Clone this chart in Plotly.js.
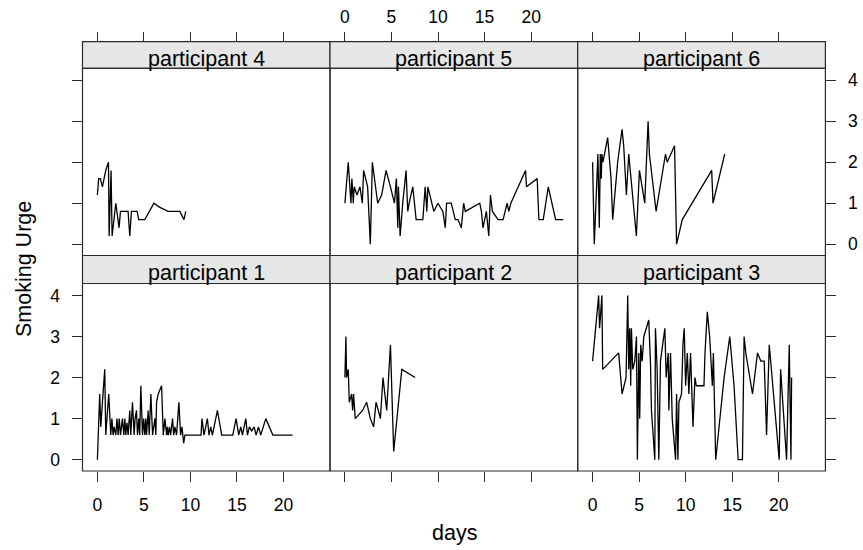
<!DOCTYPE html>
<html>
<head>
<meta charset="utf-8">
<script src="https://cdn.plot.ly/plotly-3.0.1.min.js"></script>
<style>html,body{margin:0;padding:0;background:#fff}#chart{width:863px;height:550px}</style>
</head>
<body>
<div id="chart"></div>
<script>
// ---- data (days since start, smoking urge) ----
const p1Days = [0,0.25,0.36,0.79,0.9,1.04,1.22,1.44,1.56,1.69,1.8,1.98,2.1,2.23,2.35,2.48,2.58,2.69,2.84,2.95,3.05,3.18,3.3,3.48,3.59,3.77,3.95,4.05,4.2,4.31,4.45,4.55,4.67,4.85,4.97,5.1,5.2,5.28,5.46,5.57,5.75,5.93,6.05,6.18,6.28,6.36,6.54,6.9,7.08,7.26,7.44,7.52,7.61,7.75,7.87,8.08,8.2,8.33,8.51,8.76,8.94,9.09,9.27,9.41,11.14,11.24,11.46,11.64,11.82,12.0,12.18,12.36,12.9,13.36,14.55,14.91,15.19,15.41,15.59,15.95,16.13,16.34,16.59,16.85,17.06,17.31,17.56,18.1,18.86,20.98];
const p1Urge = [0.0,1.6,0.8,2.2,0.6,1.0,1.6,0.6,1.0,0.6,0.8,0.6,1.0,0.6,1.0,0.6,0.8,1.0,0.6,1.0,0.6,0.9,0.6,1.2,0.6,1.4,0.6,1.0,1.2,0.6,1.0,0.6,1.8,0.6,1.0,0.6,1.0,0.6,1.2,0.6,1.6,0.6,0.8,1.0,0.6,1.4,1.6,1.8,0.6,1.0,0.6,0.8,0.6,0.8,0.6,1.0,0.6,0.8,0.6,1.4,0.6,0.8,0.4,0.6,0.6,1.0,0.6,0.8,1.0,0.6,0.8,0.6,1.2,0.6,0.6,1.0,0.6,0.8,0.6,1.0,0.6,0.8,0.7,0.8,0.6,0.8,0.6,1.0,0.6,0.6];

const p2Days = [0,0.11,0.18,0.36,0.47,0.72,0.83,0.93,1.11,1.9,2.33,2.73,3.09,3.34,3.59,3.81,4.09,4.49,4.89,5.24,6.11,7.54];
const p2Urge = [2.0,3.0,2.0,2.2,1.4,1.6,1.2,1.6,1.0,1.2,1.4,1.0,0.8,1.4,1.2,1.0,2.0,1.2,2.8,0.2,2.2,2.0];

const p3Days = [0,0.65,0.75,1.0,1.08,2.8,3.16,3.59,3.77,3.88,3.99,4.09,4.17,4.31,4.53,4.71,4.81,4.96,5.06,5.17,5.32,5.5,6.03,6.21,6.32,6.68,6.75,6.93,7.11,7.29,7.76,7.9,8.12,8.19,8.37,8.55,8.91,9.02,9.16,9.27,9.55,9.7,9.84,9.99,10.17,10.34,10.52,10.78,10.99,11.14,11.96,12.07,12.32,12.57,12.86,12.97,13.22,14.12,14.73,15.19,15.63,15.91,16.09,16.27,16.45,17.17,17.71,18.07,18.43,18.68,18.97,20.04,20.19,20.83,21.12,21.3,21.37];
const p3Urge = [2.4,4.0,3.2,4.0,2.2,2.6,1.6,2.0,4.0,2.2,3.2,1.8,3.2,2.2,2.4,3.0,0.0,2.6,1.0,2.8,2.4,3.0,3.4,2.4,1.2,0.0,3.2,2.2,0.0,2.4,3.2,2.0,2.6,1.2,2.6,1.0,0.0,1.6,0.0,1.4,1.6,2.8,3.2,1.8,2.6,1.6,2.6,0.8,2.0,1.8,1.8,2.6,3.6,3.0,1.8,2.6,0.0,2.0,3.0,1.8,0.0,0.0,0.0,3.0,2.6,1.6,2.6,2.4,2.4,0.6,2.8,0.0,2.2,0.0,2.8,0.0,2.0];

const p4Days = [0,0.14,0.32,0.54,0.9,1.19,1.26,1.47,1.58,1.98,2.33,2.48,3.3,3.48,3.66,4.27,4.45,5.1,6.07,6.72,7.6,8.87,9.3,9.5];
const p4Urge = [1.2,1.6,1.6,1.4,1.8,2.0,0.2,1.8,0.2,1.0,0.4,0.8,0.8,0.2,0.8,0.8,0.6,0.6,1.0,0.9,0.8,0.8,0.6,0.8];

const p5Days = [0,0.36,0.65,0.75,0.9,1.0,1.3,1.62,1.87,2.01,2.44,2.73,2.95,3.52,3.95,4.42,4.89,5.32,5.53,5.68,5.75,5.93,6.21,6.57,6.75,6.9,7.29,7.65,8.37,8.62,8.8,8.91,9.55,9.99,10.52,10.78,10.92,11.42,11.85,12.14,12.5,12.75,12.93,13.65,14.48,14.66,14.83,15.19,15.45,15.63,15.84,16.45,16.99,17.42,17.6,17.82,19.4,19.5,20.65,20.83,21.3,21.84,22.63,23.45];
const p5Urge = [1.0,2.0,1.0,1.6,1.0,1.4,1.2,1.4,1.0,1.8,1.4,0.0,2.0,1.0,1.2,1.8,1.4,1.0,1.6,0.4,1.4,0.2,1.0,1.8,0.8,1.0,1.4,0.6,0.6,1.4,0.8,1.4,0.8,1.0,0.8,0.4,1.0,1.0,0.6,0.6,0.4,1.0,0.8,0.9,1.0,0.8,0.4,0.8,0.2,1.2,0.8,0.6,0.6,1.0,0.8,1.0,1.8,1.4,1.6,0.6,0.6,1.4,0.6,0.6];

const p6Days = [0,0.18,0.57,0.72,0.83,0.93,1.0,1.11,1.62,1.98,2.16,2.69,3.16,3.34,3.63,3.88,4.7,5.03,5.6,5.96,6.1,6.82,7.83,8.01,8.8,9.02,9.63,12.79,12.93,14.19];
const p6Urge = [2.0,0.0,2.2,0.4,2.2,1.6,2.2,2.0,2.6,1.6,0.6,2.0,2.8,2.4,1.2,2.2,0.2,1.8,1.0,3.0,2.2,0.8,2.2,2.0,2.4,0.0,0.6,1.8,1.0,2.2];

const panelLabels = ["participant 4","participant 5","participant 6","participant 1","participant 2","participant 3"];
const xTicks = [0,5,10,15,20];
const yTicks = [0,1,2,3,4];
const xTitle = "days";
const yTitle = "Smoking Urge";

// panel order: top row p4,p5,p6 ; bottom row p1,p2,p3
const series = [[p4Days,p4Urge],[p5Days,p5Urge],[p6Days,p6Urge],[p1Days,p1Urge],[p2Days,p2Urge],[p3Days,p3Urge]];

// ---- geometry (pixels) ----
const W = 863, H = 550;
const cols = [[82.5,330],[330,577.7],[577.7,825.4]];
const rowPanels = [[68.3,255.5],[283.5,471]];
const rowStrips = [[41.7,68.3],[255.5,283.5]];
const px = x => x / W;
const py = y => 1 - y / H;
const FONT = "Liberation Sans, Arial, Helvetica, sans-serif";
const LINE = "#2b2b2b";
const TICKSIZE = 17.5, TITLESIZE = 21.5;

const traces = [];
const layout = {
  width: W, height: H,
  margin: {l:0, r:0, t:0, b:0},
  paper_bgcolor: "#fff", plot_bgcolor: "#fff",
  showlegend: false,
  font: {family: FONT, color: "#000"},
  shapes: [], annotations: []
};

for (let i = 0; i < 6; i++) {
  const r = Math.floor(i / 3), c = i % 3, k = i + 1;
  const xa = "xaxis" + k, ya = "yaxis" + k;
  traces.push({
    type: "scatter", mode: "lines",
    x: series[i][0], y: series[i][1],
    xaxis: "x" + k, yaxis: "y" + k,
    line: {color: "#000", width: 1.3},
    hoverinfo: "skip"
  });
  const xBase = {
    domain: [px(cols[c][0]), px(cols[c][1])],
    range: [-1.6, 25.0], showgrid: false, zeroline: false, showline: false,
    tickmode: "array", tickvals: xTicks, ticktext: xTicks.map(String),
    ticks: "outside", ticklen: 10, tickwidth: 1, tickcolor: LINE,
    tickfont: {size: TICKSIZE, color: "#000", family: FONT},
    fixedrange: true
  };
  if (r === 0) {
    Object.assign(xBase, {anchor: "free", position: py(rowStrips[0][0]), side: "top",
      showticklabels: c === 1, ticklabelstandoff: 2});
  } else {
    Object.assign(xBase, {anchor: "y" + k, side: "bottom",
      showticklabels: c !== 1, ticklabelstandoff: 8});
  }
  layout[xa] = xBase;
  const yBase = {
    domain: [py(rowPanels[r][1]), py(rowPanels[r][0])],
    anchor: "x" + k,
    range: [-0.275, 4.29], showgrid: false, zeroline: false, showline: false,
    tickmode: "array", tickvals: yTicks, ticktext: yTicks.map(String),
    tickwidth: 1, tickcolor: LINE, ticklen: 10,
    tickfont: {size: TICKSIZE, color: "#000", family: FONT},
    fixedrange: true
  };
  if (c === 0) {
    Object.assign(yBase, {side: "left", ticks: "outside", showticklabels: r === 1, ticklabelstandoff: 8});
  } else if (c === 2) {
    Object.assign(yBase, {side: "right", ticks: "outside", showticklabels: r === 0, ticklabelstandoff: 8});
  } else {
    Object.assign(yBase, {ticks: "", showticklabels: false});
  }
  layout[ya] = yBase;

  // strip
  layout.shapes.push({type: "rect", xref: "paper", yref: "paper", layer: "below",
    x0: px(cols[c][0]), x1: px(cols[c][1]), y0: py(rowStrips[r][1]), y1: py(rowStrips[r][0]),
    fillcolor: "#e6e6e6", line: {color: LINE, width: 1.2}});
  // panel border
  layout.shapes.push({type: "rect", xref: "paper", yref: "paper", layer: "above",
    x0: px(cols[c][0]), x1: px(cols[c][1]), y0: py(rowPanels[r][1]), y1: py(rowPanels[r][0]),
    fillcolor: "rgba(0,0,0,0)", line: {color: LINE, width: 1.2}});
  // strip label
  layout.annotations.push({xref: "paper", yref: "paper",
    x: px((cols[c][0] + cols[c][1]) / 2), y: py(rowStrips[r][0] + 17),
    xanchor: "center", yanchor: "middle", showarrow: false,
    text: panelLabels[i], font: {size: TITLESIZE, color: "#000", family: FONT}});
}

layout.annotations.push({xref: "paper", yref: "paper", x: px(454), y: py(533),
  xanchor: "center", yanchor: "middle", showarrow: false, text: xTitle,
  font: {size: TITLESIZE, color: "#000", family: FONT}});
layout.annotations.push({xref: "paper", yref: "paper", x: px(24), y: py(269),
  xanchor: "center", yanchor: "middle", showarrow: false, text: yTitle, textangle: -90,
  font: {size: TITLESIZE, color: "#000", family: FONT}});

Plotly.newPlot("chart", traces, layout, {staticPlot: true, displayModeBar: false});
</script>
</body>
</html>
